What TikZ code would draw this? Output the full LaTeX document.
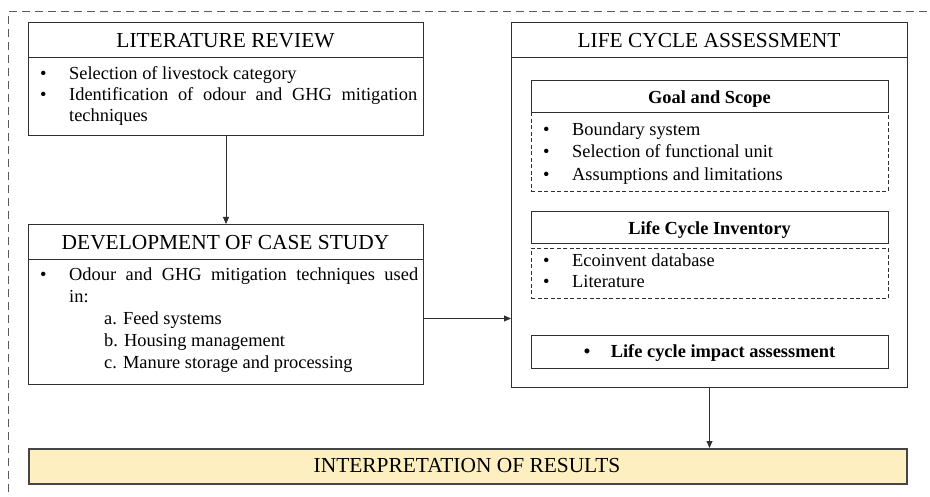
\documentclass[tikz,border=0pt]{standalone}
\usepackage{fontspec}
\setmainfont{Liberation Serif}
\usetikzlibrary{arrows.meta}

\definecolor{edge}{HTML}{303030}
\definecolor{framegray}{HTML}{5A5A5A}
\definecolor{resultfill}{HTML}{FDEFC0}

\newcommand\bodyfont{\fontsize{18.4}{21.5}\selectfont}
\newcommand\headfont{\fontsize{21.4}{25}\selectfont}
\newcommand\bul[1]{\makebox[#1][l]{\textbullet}}

\begin{document}
\begin{tikzpicture}[x=1pt,y=-1pt,
  box/.style={draw=edge, line width=1pt, inner sep=0pt, anchor=north west, rectangle},
  dashbox/.style={box, dash pattern=on 4pt off 2.5pt, line width=0.8pt},
  ln/.style={anchor=base west, inner sep=0pt, font=\bodyfont},
  head/.style={anchor=base, inner sep=0pt, font=\headfont},
  bhead/.style={anchor=base, inner sep=0pt, font=\bodyfont\bfseries},
  arr/.style={draw=edge, line width=0.8pt, -{Triangle[length=7pt,width=6pt]}},
]
\useasboundingbox (0,0) rectangle (930,497);

% outer dashed frame (only top and left edges fall inside the page)
\draw[framegray, line width=1pt, dash pattern=on 8pt off 5pt]
  (940,12) -- (8.5,12) -- (8.5,510);

% literature review
\node[box, minimum width=395pt, minimum height=35pt] (lrh) at (28,22) {};
\node[box, minimum width=395pt, minimum height=78pt] (lrb) at (28,57) {};
\node[head] (lrt) at (225.5,47.5) {LITERATURE REVIEW};
\node[ln] (lr1) at (40,80) {\bul{29pt}Selection of livestock category};
\node[ln] (lr2) at (40,101) {\bul{29pt}\makebox[348pt][s]{Identification of odour and GHG mitigation}};
\node[ln] (lr3) at (69,122) {techniques};

% development of case study
\node[box, minimum width=395pt, minimum height=35pt] (dch) at (28,224) {};
\node[box, minimum width=395pt, minimum height=125pt] (dcb) at (28,259) {};
\node[head] (dct) at (225.5,250) {DEVELOPMENT OF CASE STUDY};
\node[ln] (dc1) at (40,281) {\bul{29pt}\makebox[349pt][s]{Odour and GHG mitigation techniques used}};
\node[ln] (dc2) at (69,303) {in:};
\node[ln] (dc3) at (104,325) {a. Feed systems};
\node[ln] (dc4) at (104,347) {b. Housing management};
\node[ln] (dc5) at (104,368) {c. Manure storage and processing};

% life cycle assessment
\node[box, minimum width=396pt, minimum height=365pt] (lca) at (511,22) {};
\node[box, minimum width=396pt, minimum height=35pt] (lcah) at (511,22) {};
\node[head] (lcat) at (709,47.5) {LIFE CYCLE ASSESSMENT};

% goal and scope
\node[dashbox, minimum width=357pt, minimum height=79pt] (gsb) at (531,112) {};
\node[box, minimum width=357pt, minimum height=32pt] (gsh) at (531,80) {};
\node[bhead] (gst) at (709.5,104) {Goal and Scope};
\node[ln] (gs1) at (543,136) {\bul{29pt}Boundary system};
\node[ln] (gs2) at (543,158) {\bul{29pt}Selection of functional unit};
\node[ln] (gs3) at (543,181) {\bul{29pt}Assumptions and limitations};

% life cycle inventory
\node[box, minimum width=357pt, minimum height=32pt] (lcih) at (531,211) {};
\node[dashbox, minimum width=357pt, minimum height=50pt] (lcib) at (531,248) {};
\node[bhead] (lcit) at (709.5,235) {Life Cycle Inventory};
\node[ln] (lci1) at (543,266.5) {\bul{29pt}Ecoinvent database};
\node[ln] (lci2) at (543,288) {\bul{29pt}Literature};

% impact assessment
\node[box, minimum width=357pt, minimum height=33pt] (lcia) at (531,335) {};
\node[bhead] (lciat) at (709.5,357) {\bul{27pt}Life cycle impact assessment};

% interpretation
\node[box, fill=resultfill, draw=edge!90, line width=1.5pt,
      minimum width=878pt, minimum height=35pt] (ior) at (28,448) {};
\node[head] (iort) at (467,472) {INTERPRETATION OF RESULTS};

% connectors
\draw[arr] (lrb.south) -- (dch.north);
\coordinate (dcout) at ([yshift=3.5pt]dcb.east);
\draw[arr] (dcout) -- (dcout -| lca.west);
\draw[arr] (lca.south) -- (lca.south |- ior.north);
\end{tikzpicture}
\end{document}
